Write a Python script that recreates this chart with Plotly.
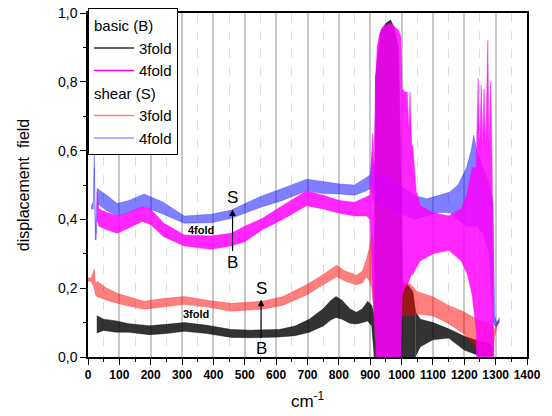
import plotly.graph_objects as go

# ---------------- data ----------------
# basic (B) 3fold  -- band envelopes of the noisy trace
b3_x  = [28, 50, 90, 130, 195, 250, 307, 380, 457, 520, 610, 660, 706, 750, 775, 791, 810, 835, 856, 875, 892,
         905, 913, 917, 922, 935, 950, 965, 975, 990, 997, 1003, 1020, 1036, 1045, 1060, 1100, 1150, 1200, 1250,
         1280, 1292]
b3_hi = [0.12, 0.11, 0.105, 0.097, 0.091, 0.095, 0.100, 0.092, 0.080, 0.078, 0.080, 0.090, 0.11, 0.14, 0.165, 0.176,
         0.165, 0.14, 0.13, 0.14, 0.162, 0.15, 0.12, 0.815, 0.86, 0.95, 0.97, 0.98, 0.96, 0.90, 0.60, 0.21, 0.21,
         0.19, 0.13, 0.11, 0.10, 0.082, 0.06, 0.045, 0.04, 0.03]
b3_lo = [0.07, 0.077, 0.072, 0.072, 0.065, 0.068, 0.075, 0.068, 0.057, 0.056, 0.058, 0.062, 0.072, 0.09, 0.108, 0.115,
         0.11, 0.098, 0.096, 0.10, 0.105, 0.09, 0.0, 0.0, 0.0, 0.0, 0.0, 0.0, 0.0, 0.0, 0.0,
         0.0, 0.0, 0.0, 0.003, 0.03, 0.05, 0.055, 0.02, 0.003, 0.003, 0.003]

# basic (B) 4fold
b4_x  = [28, 35, 60, 93, 130, 173, 200, 240, 307, 393, 457, 500, 556, 620, 697, 750, 802, 850, 888, 900,
         904, 908, 912, 917, 922, 930, 940, 965, 990, 998, 1002, 1010, 1018, 1023, 1027, 1032, 1036, 1041, 1047,
         1060, 1100, 1150, 1190, 1210, 1225, 1238, 1244, 1249, 1254, 1259, 1263, 1268, 1275, 1279, 1284, 1289,
         1292, 1294]
b4_hi = [0.48, 0.43, 0.42, 0.41, 0.42, 0.437, 0.43, 0.39, 0.355, 0.352, 0.36, 0.38, 0.403, 0.44, 0.483, 0.47,
         0.455, 0.45, 0.466, 0.47, 0.58, 0.65, 0.55, 0.79, 0.90, 0.94, 0.96, 0.97, 0.95, 0.93, 0.78, 0.77, 0.77,
         0.66, 0.77, 0.62, 0.61, 0.55, 0.48, 0.44, 0.42, 0.41, 0.43, 0.48, 0.55, 0.55, 0.81, 0.60, 0.79, 0.62,
         0.78, 0.60, 0.92, 0.60, 0.80, 0.55, 0.20, 0.0]
b4_lo = [0.40, 0.38, 0.37, 0.36, 0.375, 0.394, 0.385, 0.35, 0.323, 0.313, 0.323, 0.335, 0.37, 0.40, 0.44, 0.43,
         0.418, 0.41, 0.41, 0.40, 0.30, 0.20, 0.12, 0.05, 0.0, 0.0, 0.0, 0.0, 0.0, 0.003, 0.18, 0.20,
         0.21, 0.22, 0.23, 0.24, 0.24, 0.25, 0.26, 0.28, 0.30, 0.31, 0.28, 0.24, 0.18, 0.08, 0.0, 0.0, 0.0,
         0.0, 0.0, 0.0, 0.0, 0.0, 0.0, 0.0, 0.0, 0.0]

# shear (S) 3fold (hidden under the peak between ~915 and 1000, so kept as two visible pieces)
s3a_x  = [0, 10, 20, 24, 29, 60, 93, 130, 179, 240, 307, 380, 457, 556, 620, 697, 750, 793, 820, 856, 875, 888,
          898, 905, 915]
s3a_hi = [0.23, 0.23, 0.256, 0.21, 0.22, 0.20, 0.185, 0.175, 0.162, 0.17, 0.176, 0.165, 0.156, 0.162, 0.175, 0.21,
          0.24, 0.267, 0.25, 0.238, 0.25, 0.284, 0.32, 0.36, 0.30]
s3a_lo = [0.22, 0.22, 0.20, 0.18, 0.176, 0.165, 0.156, 0.148, 0.139, 0.145, 0.153, 0.145, 0.133, 0.139, 0.15, 0.18,
          0.21, 0.233, 0.22, 0.21, 0.215, 0.233, 0.22, 0.20, 0.10]
s3b_x  = [1000, 1005, 1030, 1050, 1100, 1150, 1195, 1240, 1270, 1290, 1297, 1305, 1312]
s3b_hi = [0.22, 0.22, 0.21, 0.19, 0.175, 0.15, 0.133, 0.11, 0.10, 0.09, 0.08, 0.10, 0.115]
s3b_lo = [0.12, 0.12, 0.12, 0.125, 0.12, 0.097, 0.07, 0.03, 0.003, 0.003, 0.06, 0.09, 0.10]

# shear (S) 4fold
s4_x  = [10, 17, 20, 23, 26, 29, 60, 93, 130, 179, 240, 307, 393, 457, 556, 620, 697, 750, 802, 850, 888, 900,
         905, 915, 1040, 1080, 1120, 1154, 1180, 1207, 1222, 1230, 1240, 1260, 1280, 1292, 1297, 1303, 1310]
s4_hi = [0.44, 0.45, 0.59, 0.42, 0.36, 0.49, 0.47, 0.446, 0.455, 0.474, 0.45, 0.41, 0.415, 0.427, 0.469, 0.49,
         0.517, 0.51, 0.503, 0.50, 0.522, 0.53, 0.58, 0.55, 0.47, 0.46, 0.47, 0.48, 0.50, 0.55, 0.60, 0.645,
         0.60, 0.55, 0.50, 0.45, 0.12, 0.10, 0.11]
s4_lo = [0.43, 0.43, 0.55, 0.34, 0.34, 0.446, 0.425, 0.41, 0.42, 0.437, 0.415, 0.389, 0.39, 0.403, 0.437, 0.455,
         0.483, 0.475, 0.474, 0.47, 0.483, 0.49, 0.48, 0.45, 0.40, 0.41, 0.42, 0.42, 0.40, 0.38, 0.38, 0.38,
         0.38, 0.36, 0.30, 0.10, 0.09, 0.09, 0.10]

x_ticks = list(range(0, 1401, 100))
y_ticks = [0.0, 0.2, 0.4, 0.6, 0.8, 1.0]
y_tick_labels = ["0,0", "0,2", "0,4", "0,6", "0,8", "1,0"]

FONT = "Liberation Sans, Arial, sans-serif"

BLACK = "rgba(0,0,0,0.8)"
RED = "rgba(255,0,0,0.5)"
BLUE = "rgba(0,0,255,0.5)"
MAGENTA = "rgba(255,0,255,0.85)"

# Each series is split into index ranges: "band" pieces are closed polygons between the
# upper and lower envelopes, "zero" pieces (where the noisy trace reaches down to 0) are
# filled from the upper envelope down to the axis.
series = [
    (b3_x, b3_hi, b3_lo, BLACK, [("band", 0, 22), ("zero", 22, 34), ("band", 34, 41)]),
    (s3a_x, s3a_hi, s3a_lo, RED, [("band", 0, len(s3a_x) - 1)]),
    (s3b_x, s3b_hi, s3b_lo, RED, [("band", 0, len(s3b_x) - 1)]),
    (s4_x, s4_hi, s4_lo, BLUE, [("band", 0, len(s4_x) - 1)]),
    (b4_x, b4_hi, b4_lo, MAGENTA, [("band", 0, 23), ("zero", 23, 29), ("band", 29, 45), ("zero", 45, 57)]),
]

fig = go.Figure()

# legend entries (line samples) in the reference order
legend_order = [
    ("3fold", "basic", "basic (B)", "#333333", 1),
    ("4fold", "basic", "basic (B)", "#ff00ff", 2),
    ("3fold", "shear", "shear (S)", "#ff8080", 3),
    ("4fold", "shear", "shear (S)", "#9999ff", 4),
]
for name, grp, gtitle, col, rank in legend_order:
    fig.add_trace(go.Scatter(
        x=[None], y=[None], mode="lines", name=name,
        line=dict(color=col, width=1.5),
        legendgroup=grp, legendgrouptitle_text=gtitle, legendrank=rank,
        showlegend=True, hoverinfo="skip"))

for xs, hi, lo, fcol, pieces in series:
    for kind, i0, i1 in pieces:
        px = list(xs[i0:i1 + 1])
        phi = list(hi[i0:i1 + 1])
        plo = list(lo[i0:i1 + 1])
        if kind == "band":
            fig.add_trace(go.Scatter(
                x=px + px[::-1], y=phi + plo[::-1],
                mode="lines", fill="toself", fillcolor=fcol,
                line=dict(width=0.5, color=fcol, simplify=False),
                showlegend=False, hoverinfo="skip"))
        else:
            fig.add_trace(go.Scatter(
                x=px, y=phi,
                mode="lines", fill="tozeroy", fillcolor=fcol,
                line=dict(width=0.5, color=fcol, simplify=False),
                showlegend=False, hoverinfo="skip"))

# annotations: labels and arrows
ann = []
def text(x, y, t, size=17, bold=False):
    ann.append(dict(x=x, y=y, xref="x", yref="y", text=t, showarrow=False,
                    font=dict(family=FONT, size=size, color="black",
                              weight="bold" if bold else "normal")))
def arrow(x, y0, y1):
    ann.append(dict(x=x, y=y1, ax=x, ay=y0, xref="x", yref="y", axref="x", ayref="y",
                    text="", showarrow=True, arrowhead=2, arrowsize=1.1, arrowwidth=1.2,
                    arrowcolor="black"))

text(461, 0.465, "S"); text(461, 0.276, "B"); arrow(461, 0.304, 0.429)
text(552, 0.200, "S"); text(552, 0.025, "B"); arrow(552, 0.051, 0.167)
text(360, 0.368, "4fold", size=11, bold=True)
text(344, 0.124, "3fold", size=11, bold=True)

fig.update_layout(
    width=552, height=416,
    margin=dict(l=88, r=25, t=5, b=59),
    paper_bgcolor="white", plot_bgcolor="white",
    font=dict(family=FONT, color="black"),
    annotations=ann,
    showlegend=True,
    legend=dict(
        x=0.0, y=1.014, xanchor="left", yanchor="top",
        bgcolor="white", bordercolor="black", borderwidth=1,
        font=dict(family=FONT, size=15, color="black"),
        grouptitlefont=dict(family=FONT, size=15, color="black"),
        tracegroupgap=0, itemwidth=40, traceorder="grouped",
    ),
)

fig.update_xaxes(
    range=[0, 1400], tickvals=x_ticks,
    ticks="outside", ticklen=6, tickwidth=1.2, tickcolor="black",
    tickfont=dict(family=FONT, size=12, weight="bold", color="black"),
    showline=True, linecolor="black", linewidth=1.5, mirror=True,
    showgrid=True, gridcolor="#c8c8c8", gridwidth=1.5, zeroline=False,
    minor=dict(dtick=50, ticks="outside", ticklen=3, tickcolor="black",
               showgrid=True, gridcolor="#dddddd", griddash="dash", gridwidth=1),
    title=dict(text="cm<sup>-1</sup>", font=dict(family=FONT, size=17, color="black"), standoff=14),
)
fig.update_yaxes(
    range=[0, 1.0], tickvals=y_ticks, ticktext=y_tick_labels,
    ticks="outside", ticklen=6, tickwidth=1.2, tickcolor="black",
    tickfont=dict(family=FONT, size=14, color="black"),
    showline=True, linecolor="black", linewidth=1.5, mirror=True,
    showgrid=False, zeroline=False,
    minor=dict(dtick=0.1, ticks="outside", ticklen=3, tickcolor="black", showgrid=False),
    title=dict(text="displacement  field", font=dict(family=FONT, size=16, color="black"), standoff=24),
)

fig.write_html("out.html")
